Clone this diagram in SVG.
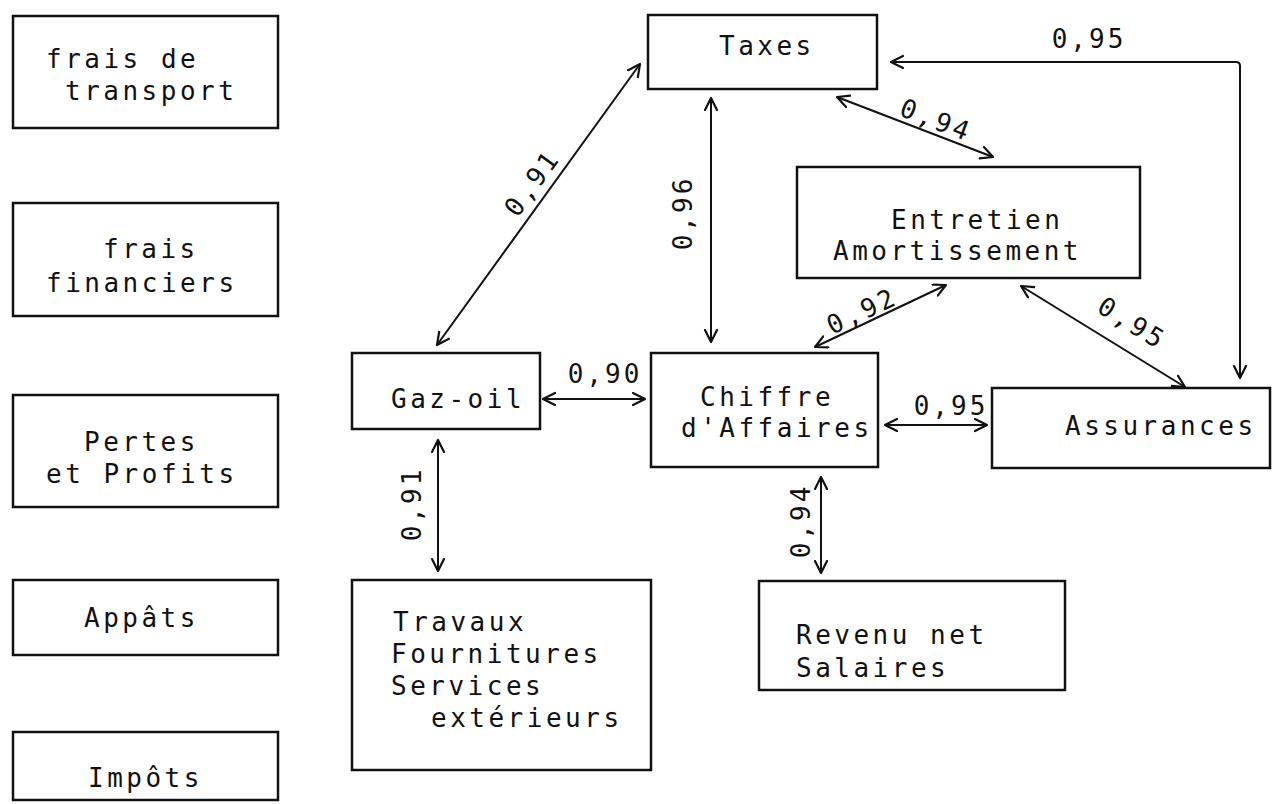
<svg xmlns="http://www.w3.org/2000/svg" width="1273" height="804" viewBox="0 0 1273 804">
<style>
.box{fill:none;stroke:#111;stroke-width:2.5}
.t{font-family:"DejaVu Sans Mono","Liberation Mono",monospace;font-size:26px;letter-spacing:3.5px;fill:#111}
.lbl{font-family:"DejaVu Sans Mono","Liberation Mono",monospace;font-size:26px;letter-spacing:3px;fill:#111;text-anchor:middle}
.c{fill:none;stroke:#111;stroke-width:2;marker-start:url(#ah);marker-end:url(#ah)}
</style>
<defs>
<marker id="ah" markerUnits="userSpaceOnUse" markerWidth="16" markerHeight="16" refX="13" refY="7" orient="auto-start-reverse">
<path d="M1,1 L13,7 L1,13" fill="none" stroke="#111" stroke-width="2.2" stroke-linecap="round" stroke-linejoin="round"/>
</marker>
</defs>
<rect width="1273" height="804" fill="#fff"/>

<g id="n-transport"><rect class="box" x="13" y="16" width="265" height="112"/>
<text class="t" x="46" y="68">frais de</text><text class="t" x="65" y="100">transport</text></g>
<g id="n-financiers"><rect class="box" x="13" y="203" width="265" height="113"/>
<text class="t" x="103" y="258">frais</text><text class="t" x="46" y="292">financiers</text></g>
<g id="n-pertes"><rect class="box" x="13" y="395" width="265" height="112"/>
<text class="t" x="84" y="451">Pertes</text><text class="t" x="46" y="483">et Profits</text></g>
<g id="n-appats"><rect class="box" x="13" y="580" width="265" height="75"/>
<text class="t" x="84" y="627">Appâts</text></g>
<g id="n-impots"><rect class="box" x="13" y="732" width="265" height="68"/>
<text class="t" x="88" y="787">Impôts</text></g>

<g id="n-taxes"><rect class="box" x="648" y="15" width="229" height="74"/>
<text class="t" x="719" y="55">Taxes</text></g>
<g id="n-entretien"><rect class="box" x="797" y="167" width="343" height="111"/>
<text class="t" x="891" y="229">Entretien</text><text class="t" x="833" y="260">Amortissement</text></g>
<g id="n-gazoil"><rect class="box" x="352" y="353" width="188" height="76"/>
<text class="t" x="391" y="408">Gaz-oil</text></g>
<g id="n-chiffre"><rect class="box" x="651" y="353" width="227" height="114"/>
<text class="t" x="700" y="406">Chiffre</text><text class="t" x="681" y="437">d'Affaires</text></g>
<g id="n-assurances"><rect class="box" x="992" y="388" width="278" height="80"/>
<text class="t" x="1065" y="435">Assurances</text></g>
<g id="n-travaux"><rect class="box" x="352" y="580" width="299" height="190"/>
<text class="t" x="393" y="631">Travaux</text><text class="t" x="391" y="663">Fournitures</text><text class="t" x="391" y="695">Services</text><text class="t" x="431" y="727">extérieurs</text></g>
<g id="n-revenu"><rect class="box" x="759" y="581" width="306" height="109"/>
<text class="t" x="796" y="644">Revenu net</text><text class="t" x="796" y="677">Salaires</text></g>

<g id="connectors">
<line class="c" x1="437" y1="345" x2="640" y2="64"/>
<line class="c" x1="711" y1="98" x2="711" y2="342"/>
<line class="c" x1="837" y1="97" x2="993" y2="157"/>
<line class="c" x1="815" y1="347" x2="946" y2="285"/>
<line class="c" x1="1021" y1="286" x2="1185" y2="387"/>
<path class="c" d="M891,62 H1236 Q1240,62 1240,66 V378"/>
<line class="c" x1="543" y1="399" x2="645" y2="399"/>
<line class="c" x1="885" y1="425" x2="987" y2="425"/>
<line class="c" x1="438" y1="440" x2="438" y2="571"/>
<line class="c" x1="821" y1="477" x2="821" y2="573"/>
</g>

<g id="labels">
<text class="lbl" transform="translate(532,183) rotate(-54.2)" y="9">0,91</text>
<text class="lbl" transform="translate(683,213) rotate(-90)" y="9">0,96</text>
<text class="lbl" transform="translate(936,120) rotate(21)" y="9">0,94</text>
<text class="lbl" transform="translate(862,311) rotate(-25.3)" y="9">0,92</text>
<text class="lbl" transform="translate(1132,323) rotate(31.6)" y="9">0,95</text>
<text class="lbl" x="1089" y="48">0,95</text>
<text class="lbl" x="605" y="383">0,90</text>
<text class="lbl" x="951" y="415">0,95</text>
<text class="lbl" transform="translate(412,504) rotate(-90)" y="9">0,91</text>
<text class="lbl" transform="translate(801,521) rotate(-90)" y="9">0,94</text>
</g>
</svg>
